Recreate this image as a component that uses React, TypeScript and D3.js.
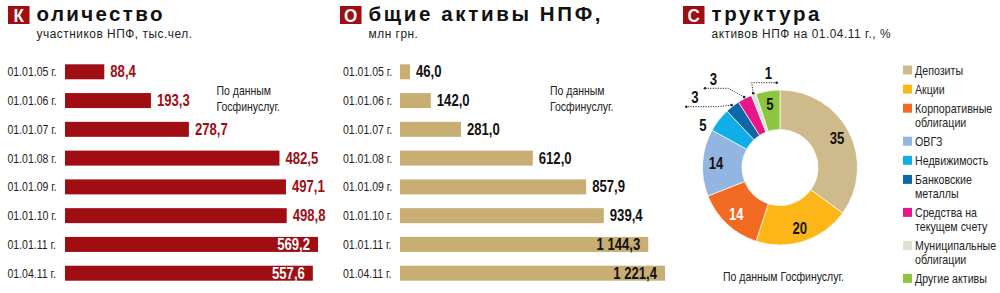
import React from 'react';
import * as d3 from 'd3';

// ---------- data ----------
const dates = ['01.01.05 г.', '01.01.06 г.', '01.01.07 г.', '01.01.08 г.', '01.01.09 г.', '01.01.10 г.', '01.01.11 г.', '01.04.11 г.'];
const participants = [88.4, 193.3, 278.7, 482.5, 497.1, 498.8, 569.2, 557.6];
const assets = [46.0, 142.0, 281.0, 612.0, 857.9, 939.4, 1144.3, 1221.4];

const structNames = [
  ['Депозиты'],
  ['Акции'],
  ['Корпоративные', 'облигации'],
  ['ОВГЗ'],
  ['Недвижимость'],
  ['Банковские', 'металлы'],
  ['Средства на', 'текущем счету'],
  ['Муниципальные', 'облигации'],
  ['Другие активы'],
];
const structShares = [35, 20, 14, 14, 5, 3, 3, 1, 5];

// ---------- styles ----------
const FONT = "'Liberation Sans', Arial, sans-serif";
const NARROW = 0.82;
const RED = '#a00d12';
const TAN = '#c9ae74';
const structColors = ['#cfba8c', '#fcb617', '#f26a22', '#93b5e1', '#10aee9', '#0d68a8', '#e9168b', '#e0e0d6', '#8cc641'];
const structLabelColors = ['#111', '#111', '#fff', '#111', '#111', '#111', '#111', '#111', '#111'];

const locale = d3.formatLocale({ decimal: ',', thousands: ' ', grouping: [3], currency: ['', ''] });
const fmt = locale.format(',.1f');

// narrow text: real text, horizontally condensed
function T({ x, y, size, bold = false, fill = '#222', anchor = 'start', sx = NARROW, spacing = 0, children }) {
  return (
    <text transform={`translate(${x},${y}) scale(${sx},1)`} textAnchor={anchor} fill={fill}
      fontFamily={FONT} fontWeight={bold ? 'bold' : 'normal'} fontSize={size} letterSpacing={spacing}>
      {children}
    </text>
  );
}

function Title({ x, letter, rest, restLength, subtitle }) {
  return (
    <g>
      <rect x={x} y={6} width={21.5} height={18} fill={RED} />
      <T x={x + 10.75} y={22} size={19} bold fill="#fff" anchor="middle" sx={0.9}>{letter}</T>
      <text x={x + 28.5} y={20.5} fill="#111" fontFamily={FONT} fontWeight="bold" fontSize={20.5}
        textLength={restLength} lengthAdjust="spacing">{rest}</text>
      <T x={x + 28.5} y={38.3} size={13.5} sx={0.88} spacing={0.6}>{subtitle}</T>
    </g>
  );
}

function BarPanel({ labelX, barX, values, maxWidth, color, valueColor, insideColor, noteX }) {
  const y = d3.scaleBand().domain(dates).range([64.3, 280.7]).paddingInner(0.479).paddingOuter(0);
  const x = d3.scaleLinear().domain([0, d3.max(values)]).range([0, maxWidth]);
  const n = values.length;
  return (
    <g>
      {dates.map((d, i) => {
        const yy = y(d);
        const w = x(values[i]);
        const inside = i >= n - 2;
        const cy = yy + y.bandwidth() / 2;
        return (
          <g key={d}>
            <T x={labelX} y={cy + 4.6} size={12.8}>{d}</T>
            <rect x={barX} y={yy} width={w} height={y.bandwidth()} fill={color} />
            <T x={inside ? barX + w - 8 : barX + w + 6} y={cy + 5.6} anchor={inside ? 'end' : 'start'}
              fill={inside ? insideColor : valueColor} bold size={16}>{fmt(values[i])}</T>
          </g>
        );
      })}
      <T x={noteX} y={95} size={12.8}>По данным</T>
      <T x={noteX} y={111} size={12.8}>Госфинуслуг.</T>
    </g>
  );
}

function Legend() {
  let y = 70;
  const items = structNames.map((lines, i) => {
    const cyItem = y;
    y += 19.1 + 13.9 * (lines.length - 1);
    return (
      <g key={i}>
        <rect x={903} y={cyItem - 4.5} width={9} height={9} fill={structColors[i]} />
        {lines.map((ln, j) => (
          <T key={j} x={915} y={cyItem + 4.5 + j * 13.9} size={13}>{ln}</T>
        ))}
      </g>
    );
  });
  return <g>{items}</g>;
}

function Donut() {
  const cx = 780, cy = 167.5, rOut = 77.5, rIn = 38;
  const pie = d3.pie().sort(null).value((d) => d);
  const arcs = pie(structShares);
  const arc = d3.arc().innerRadius(rIn).outerRadius(rOut);
  const labelArc = d3.arc().innerRadius(64).outerRadius(64);
  const polar = (a, r) => [Math.sin(a) * r, -Math.cos(a) * r];
  const modes = ['in', 'in', 'in', 'in', 'out', 'leader', 'leader', 'leader', 'in'];
  // leader layout: elbow offset from donut centre, horizontal run, text offset from elbow
  const leaders = {
    5: { elbow: [-61.7, -60.8], run: -32, text: [-23.3, -3.7] },
    6: { elbow: [-51.7, -79.2], run: -23.3, text: [-15, -3.3] },
    7: { elbow: [-28.3, -84.8], run: 25, text: [16.6, -3.4] },
  };
  return (
    <g>
      <g transform={`translate(${cx},${cy})`}>
        {arcs.map((a, i) => (
          <path key={i} d={arc(a)} fill={structColors[i]} stroke="#fff" strokeWidth={0.7} />
        ))}
        {arcs.map((a, i) => {
          const m = modes[i];
          if (m === 'in') {
            const [lx, ly] = labelArc.centroid(a);
            return (
              <T key={'l' + i} x={lx} y={ly + 5.6} anchor="middle" fill={structLabelColors[i]} bold size={16}>
                {structShares[i]}
              </T>
            );
          }
          if (m === 'out') {
            const [lx, ly] = polar(a.startAngle, rOut + 10.5);
            return (
              <T key={'l' + i} x={lx} y={ly + 5.6} anchor="middle" fill="#111" bold size={16}>{structShares[i]}</T>
            );
          }
          const L = leaders[i];
          const mid = (a.startAngle + a.endAngle) / 2;
          const [px, py] = polar(mid, rOut + 1.5);
          const [ex, ey] = L.elbow;
          const hx = ex + L.run;
          return (
            <g key={'l' + i}>
              <path d={`M${px},${py}L${ex},${ey}L${hx},${ey}`} fill="none" stroke="#222" strokeWidth={1}
                strokeDasharray="1.2,1.3" />
              <circle cx={px} cy={py} r={1.3} fill="#222" />
              <circle cx={hx} cy={ey} r={1.3} fill="#222" />
              <T x={ex + L.text[0]} y={ey + L.text[1]} anchor="middle" fill="#111" bold size={16}>
                {structShares[i]}
              </T>
            </g>
          );
        })}
      </g>
      <Legend />
      <T x={723} y={281} size={12.8}>По данным Госфинуслуг.</T>
    </g>
  );
}

export default function App() {
  return (
    <svg width={1000} height={293} style={{ position: 'absolute', left: 0, top: 0 }}>
      <rect width={1000} height={293} fill="#fff" />
      <Title x={8} letter="К" rest="оличество" restLength={126} subtitle="участников НПФ, тыс.чел." />
      <BarPanel labelX={7.5} barX={65} values={participants} maxWidth={253} color={RED}
        valueColor={RED} insideColor="#fff" noteX={216.5} />
      <Title x={340} letter="О" rest="бщие активы НПФ," restLength={232} subtitle="млн грн." />
      <BarPanel labelX={343} barX={400} values={assets} maxWidth={265} color={TAN}
        valueColor="#111" insideColor="#111" noteX={550} />
      <Title x={683} letter="С" rest="труктура" restLength={108} subtitle="активов НПФ на 01.04.11 г., %" />
      <Donut />
    </svg>
  );
}
